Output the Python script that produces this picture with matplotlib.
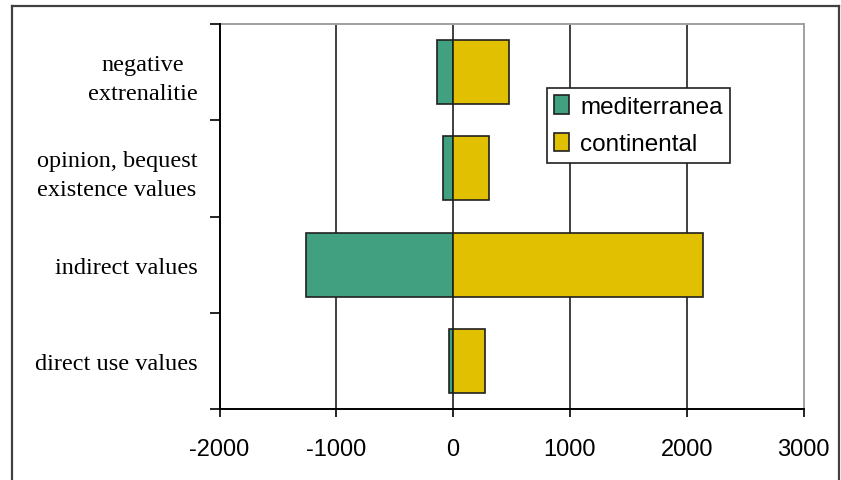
import matplotlib
matplotlib.use("Agg")
import matplotlib.pyplot as plt
from matplotlib.lines import Line2D
import numpy as np

categories = ["direct use values", "indirect values",
              "opinion, bequest\nexistence values", "negative\nextrenalitie"]
mediterranea = [-37, -1256, -88, -140]
continental = [276, 2140, 308, 481]
series_names = ["mediterranea", "continental"]
x_ticks = [-2000, -1000, 0, 1000, 2000, 3000]

green = "#40A080"
yellow = "#E0C000"

W, H = 841, 481
fig = plt.figure(figsize=(W / 100, H / 100), dpi=100)
ax = fig.add_axes([219.5 / W, 1 - 410 / H, (803.5 - 219.5) / W, (410 - 25) / H])

y = np.arange(len(categories))
ax.barh(y, mediterranea, height=0.667, color=green, edgecolor="#202020", linewidth=1.2,
        label=series_names[0], zorder=3)
ax.barh(y, continental, height=0.667, color=yellow, edgecolor="#202020", linewidth=1.2,
        label=series_names[1], zorder=3)

ax.set_xlim(-2000, 3000)
ax.set_ylim(-0.5, len(categories) - 0.5)
ax.set_xticks(x_ticks)
ax.set_xticklabels([str(v) for v in x_ticks], family="Liberation Sans", fontsize=17)
ax.tick_params(axis="x", direction="out", length=6, width=1.2, color="black", pad=15)
for xv in x_ticks[1:-1]:
    ax.axvline(xv, color="#202020", linewidth=1.2, zorder=1)

ax.set_yticks(np.arange(-0.5, len(categories), 1.0))
ax.set_yticklabels([])
ax.tick_params(axis="y", which="major", direction="out", length=7, width=1.2, color="black")
ax.set_yticks(y, minor=True)
ax.set_yticklabels(categories, minor=True, family="Liberation Serif", fontsize=17.5,
                   ha="right", multialignment="center", linespacing=1.5)
ax.tick_params(axis="y", which="minor", length=0, pad=16)

for s in ["left", "bottom"]:
    ax.spines[s].set_color("black")
    ax.spines[s].set_linewidth(1.4)
for s in ["top", "right"]:
    ax.spines[s].set_color("#A0A0A0")
    ax.spines[s].set_linewidth(1.4)
ax.spines["bottom"].set_zorder(5)
ax.spines["left"].set_zorder(5)

leg = ax.legend(loc="upper left", bbox_to_anchor=(547 / W, 1 - 89 / H),
                bbox_transform=fig.transFigure, frameon=True, fancybox=False,
                framealpha=1,
                prop={"family": "Liberation Sans", "size": 17.5},
                handlelength=0.62, handleheight=0.8, handletextpad=0.45,
                borderpad=0.3, labelspacing=0.6, borderaxespad=0)
leg.get_frame().set_edgecolor("#202020")
leg.get_frame().set_linewidth(1.2)

# outer frame
fig.add_artist(Line2D([12 / W, 12 / W], [0, 1 - 7 / H], color="#404040", lw=1.6, transform=fig.transFigure))
fig.add_artist(Line2D([12 / W, 839 / W], [1 - 7 / H, 1 - 7 / H], color="#404040", lw=1.6, transform=fig.transFigure))
fig.add_artist(Line2D([839 / W, 839 / W], [0, 1 - 7 / H], color="#404040", lw=1.6, transform=fig.transFigure))

fig.savefig("out.png", dpi=100)
